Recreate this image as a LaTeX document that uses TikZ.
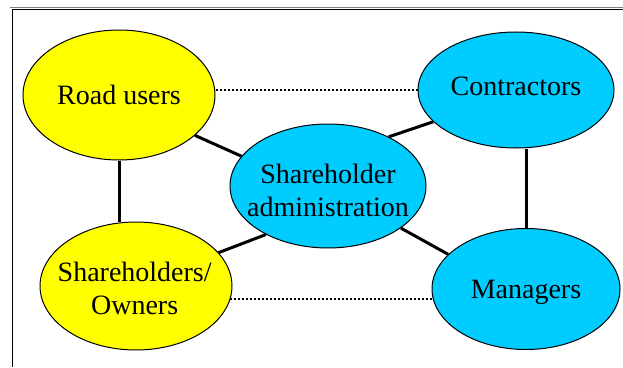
\documentclass[tikz,border=0pt]{standalone}
\usepackage{fontspec}
\setmainfont{Liberation Serif}
\usetikzlibrary{shapes.geometric}
\definecolor{owneryellow}{RGB}{255,255,0}
\definecolor{agentblue}{RGB}{0,204,255}
\tikzset{
  party/.style={ellipse,draw=black,line width=0.75pt,inner sep=0pt},
  tag/.style={align=center,inner sep=0pt,font=\fontsize{21}{24.75}\selectfont},
  link/.style={line width=2.25pt},
  loose/.style={line width=1.2pt,dash pattern=on 1.2pt off 1.8pt},
}
\begin{document}
\begin{tikzpicture}[x=0.75pt,y=-0.75pt]
\useasboundingbox (0,0) rectangle (623,367);
%frame, open at right and bottom
\draw[gray,line width=0.75pt] (10,7.5)--(623,7.5);
\draw[line width=0.75pt] (623,10)--(12,10)--(12,367);
%the five parties
\node[party,fill=owneryellow,minimum width=144pt,minimum height=97.5pt] (road) at (119,95) {};
\node[party,fill=agentblue,minimum width=147pt,minimum height=87pt] (cont) at (516,90) {};
\node[party,fill=agentblue,minimum width=147pt,minimum height=93pt] (admin) at (328,186) {};
\node[party,fill=owneryellow,minimum width=144pt,minimum height=96pt] (own) at (136,286) {};
\node[party,fill=agentblue,minimum width=141pt,minimum height=90.75pt] (man) at (526,289) {};
%their names
\node[tag] (roadtext) at (road) {Road users};
\node[tag] (conttext) at ([yshift=3pt]cont) {Contractors};
\node[tag] (admintext) at ([yshift=-3pt]admin) {Shareholder\\administration};
\node[tag] (owntext) at ([xshift=-1pt,yshift=-1.5pt]own) {Shareholders/\\Owners};
\node[tag] (mantext) at ([yshift=-2.5pt]man) {Managers};
%solid links
\draw[link] (road.south)--(road.south |- own.north);
\draw[link] (man.north)--(man.north |- cont.south);
\draw[link] (road.332)--(admin.161);
\draw[link] (cont.201)--(admin.39);
\draw[link] (own.22)--(admin.218);
\draw[link] (man.156)--(admin.330);
%dotted links
\draw[loose] (cont.west)--(road.east |- cont.west);
\draw[loose] (own.-8)--(own.-8 -| man.west);
\end{tikzpicture}
\end{document}
